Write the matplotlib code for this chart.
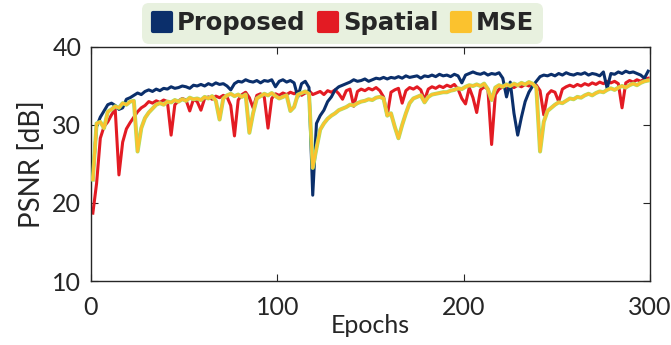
# ============================================================
#  PSNR vs epochs — Proposed / Spatial / MSE
# ============================================================
import numpy as np
import matplotlib
matplotlib.use("Agg")
import matplotlib.pyplot as plt
from matplotlib.lines import Line2D
from matplotlib.markers import MarkerStyle

# ── data (one value every 2 epochs: 1, 3, ..., 299) ─────────
EPOCHS = np.arange(1, 300, 2)

PROPOSED = [
    23.5, 29.8, 31.0, 31.8, 32.6, 32.8, 32.5, 32.0, 32.2, 33.3,
    33.5, 33.8, 34.1, 33.9, 34.3, 34.5, 34.3, 34.6, 34.4, 34.7,
    34.6, 34.9, 34.7, 34.8, 35.0, 34.9, 34.7, 35.1, 35.0, 35.2,
    35.0, 35.3, 35.1, 35.4, 35.2, 35.3, 35.0, 34.5, 35.3, 35.6,
    35.5, 35.8, 35.6, 35.5, 35.7, 35.4, 35.7, 35.6, 35.8, 34.9,
    35.6, 35.8, 35.5, 35.7, 35.4, 33.6, 35.3, 35.6, 34.8, 21.0,
    30.2, 31.2, 31.9, 33.0, 33.6, 34.5, 34.9, 35.1, 35.3, 35.5,
    35.8, 35.6, 35.7, 35.9, 35.6, 35.8, 36.0, 35.9, 36.1, 35.9,
    36.1, 36.0, 36.2, 36.0, 36.3, 36.1, 36.2, 36.3, 36.0, 36.3,
    36.2, 36.4, 36.2, 36.5, 36.3, 36.4, 36.2, 36.5, 36.3, 35.4,
    36.4, 36.6, 36.8, 36.6, 36.5, 36.7, 36.4, 36.6, 36.5, 36.7,
    36.0, 33.6, 35.5, 31.5, 28.7, 31.0, 33.0, 34.2, 35.0, 35.6,
    36.2, 36.4, 36.3, 36.5, 36.3, 36.6, 36.4, 36.7, 36.5, 36.4,
    36.6, 36.5, 36.7, 36.4, 36.6, 36.5, 36.3, 36.8, 34.7, 36.6,
    36.5, 36.8, 36.6, 36.9, 36.7, 36.8, 36.6, 36.4, 36.0, 36.9,
]

SPATIAL = [
    18.7, 22.5, 28.3, 29.8, 30.4, 31.3, 32.0, 23.6, 27.8, 29.5,
    30.3, 31.0, 31.7, 32.2, 32.5, 33.0, 32.8, 33.1, 32.9, 33.2,
    33.0, 28.7, 32.6, 33.1, 33.4, 33.2, 31.8, 33.3, 33.0, 31.9,
    33.4, 33.6, 33.3, 33.7, 33.5, 33.8, 33.6, 32.5, 28.6, 33.2,
    33.9, 34.2, 33.5, 32.2, 33.8, 34.0, 33.6, 29.6, 33.4, 34.0,
    33.8, 34.1, 33.9, 34.2, 34.0, 34.3, 33.8, 34.1, 34.4, 33.9,
    34.1, 34.3, 33.9, 34.4, 34.2, 34.5, 34.0, 33.3, 34.4, 34.6,
    32.4, 34.3, 34.6, 34.4, 34.7, 34.5, 34.8, 34.4, 33.6, 31.2,
    34.2, 34.5, 34.7, 32.8, 34.4, 34.8, 34.6, 34.9, 34.5, 33.2,
    34.6, 34.9, 34.7, 35.0, 34.8, 35.1, 34.9, 35.2, 34.6, 33.4,
    32.7, 34.8, 33.5, 31.6, 34.5, 34.9, 34.6, 27.5, 33.9, 34.6,
    34.9, 34.6, 35.0, 34.8, 35.1, 34.9, 35.2, 35.0, 35.3, 35.1,
    34.4, 31.3, 33.9, 34.4, 34.2, 33.0, 34.6, 34.9, 35.1, 34.9,
    35.2, 35.0, 35.3, 35.1, 35.4, 35.2, 35.5, 35.3, 35.6, 35.4,
    35.6, 35.3, 32.2, 35.4, 35.7, 35.5, 35.8, 35.6, 35.9, 36.0,
]

MSE = [
    23.0, 30.2, 30.4, 29.6, 31.7, 32.0, 32.4, 32.2, 32.8, 32.6,
    33.0, 33.1, 26.6, 29.6, 30.9, 31.6, 32.1, 32.6, 32.8, 32.6,
    33.0, 32.9, 33.2, 33.0, 33.3, 33.1, 33.5, 33.3, 33.4, 33.2,
    33.6, 33.4, 33.7, 33.1, 30.7, 33.4, 33.8, 34.0, 33.7, 33.9,
    33.6, 33.9, 29.0, 31.5, 33.4, 33.7, 34.0, 33.8, 34.1, 33.7,
    33.4, 33.6, 33.8, 31.8, 32.3, 33.9, 34.1, 34.3, 34.0, 24.5,
    27.0, 29.4, 30.2, 30.8, 31.2, 31.5, 31.9, 32.1, 32.3, 32.6,
    32.5, 32.8, 33.0, 33.1, 33.3, 33.2, 33.5, 33.6, 33.4, 31.2,
    31.5, 29.8, 28.3, 30.0, 31.5, 32.8, 33.4, 33.6, 33.8, 32.9,
    33.6, 33.9, 34.0, 34.1, 34.2, 34.2, 34.4, 34.5, 34.7, 34.6,
    34.9, 35.1, 35.0, 35.2, 35.0, 35.3, 34.6, 33.2, 34.8, 35.1,
    34.9, 35.2, 35.0, 35.3, 35.1, 35.4, 35.2, 35.5, 35.3, 34.8,
    26.6, 30.4, 31.8, 32.2, 32.6, 32.9, 32.8, 33.1, 33.4, 33.3,
    33.6, 33.5, 33.8, 34.0, 33.8, 34.1, 34.3, 34.2, 34.5, 34.7,
    34.5, 34.8, 35.0, 34.8, 35.1, 35.3, 35.1, 35.4, 35.6, 35.7,
]

LABELS = ["Proposed", "Spatial", "MSE"]
X_TICKS = [0, 100, 200, 300]
Y_TICKS = [10, 20, 30, 40]

NAVY, RED, YELLOW, LIME = "#0B2F6B", "#E31B23", "#FBC22E", "#A6E26A"
INK = "#262626"

plt.rcParams.update({
    "font.family": ["Lato", "DejaVu Sans"],
    "axes.edgecolor": INK, "axes.linewidth": 1.0,
    "xtick.color": INK, "ytick.color": INK,
    "text.color": INK, "axes.labelcolor": INK,
})

fig = plt.figure(figsize=(6.71, 3.45), dpi=100)
ax = fig.add_axes([0.1356, 0.1855, 0.8331, 0.6783])

# ── curves ───────────────────────────────────────────────────
ax.plot(EPOCHS, SPATIAL, color=RED, lw=2.2, zorder=2)
ax.plot(EPOCHS, PROPOSED, color=NAVY, lw=2.2, zorder=3)
ax.plot(EPOCHS, MSE, color=LIME, lw=2.9, zorder=4)
ax.plot(EPOCHS, MSE, color=YELLOW, lw=2.0, zorder=5)

ax.set_xlim(0, 300)
ax.set_ylim(10, 40)
ax.set_xticks(X_TICKS)
ax.set_yticks(Y_TICKS)
ax.tick_params(direction="in", length=5, width=0.8, labelsize=18,
               top=True, right=True, pad=7)
ax.tick_params(axis="x", pad=11)
ax.set_xlabel("Epochs", fontsize=18, labelpad=-4)
ax.set_ylabel("PSNR [dB]", fontsize=20, labelpad=5)

# ── legend (rounded squares, bold text) ─────────────────────
def _handle(color):
    return Line2D([], [], ls="none",
                  marker=MarkerStyle("s", joinstyle="round"),
                  markersize=13, markeredgewidth=3,
                  markerfacecolor=color, markeredgecolor=color)

leg = fig.legend([_handle(c) for c in (NAVY, RED, YELLOW)], LABELS,
                 loc="center", bbox_to_anchor=(0.51, 0.933), ncol=3,
                 frameon=True, fancybox=True, facecolor="#E8F1DF",
                 edgecolor="none", framealpha=1.0, handlelength=0.95,
                 handletextpad=0.15, columnspacing=0.45, borderpad=0.35,
                 prop={"family": "DejaVu Sans", "weight": "bold",
                       "size": 17.5})
leg.get_frame().set_boxstyle("round", pad=0.0, rounding_size=0.3)

fig.savefig("out.png", dpi=100, facecolor="white")
